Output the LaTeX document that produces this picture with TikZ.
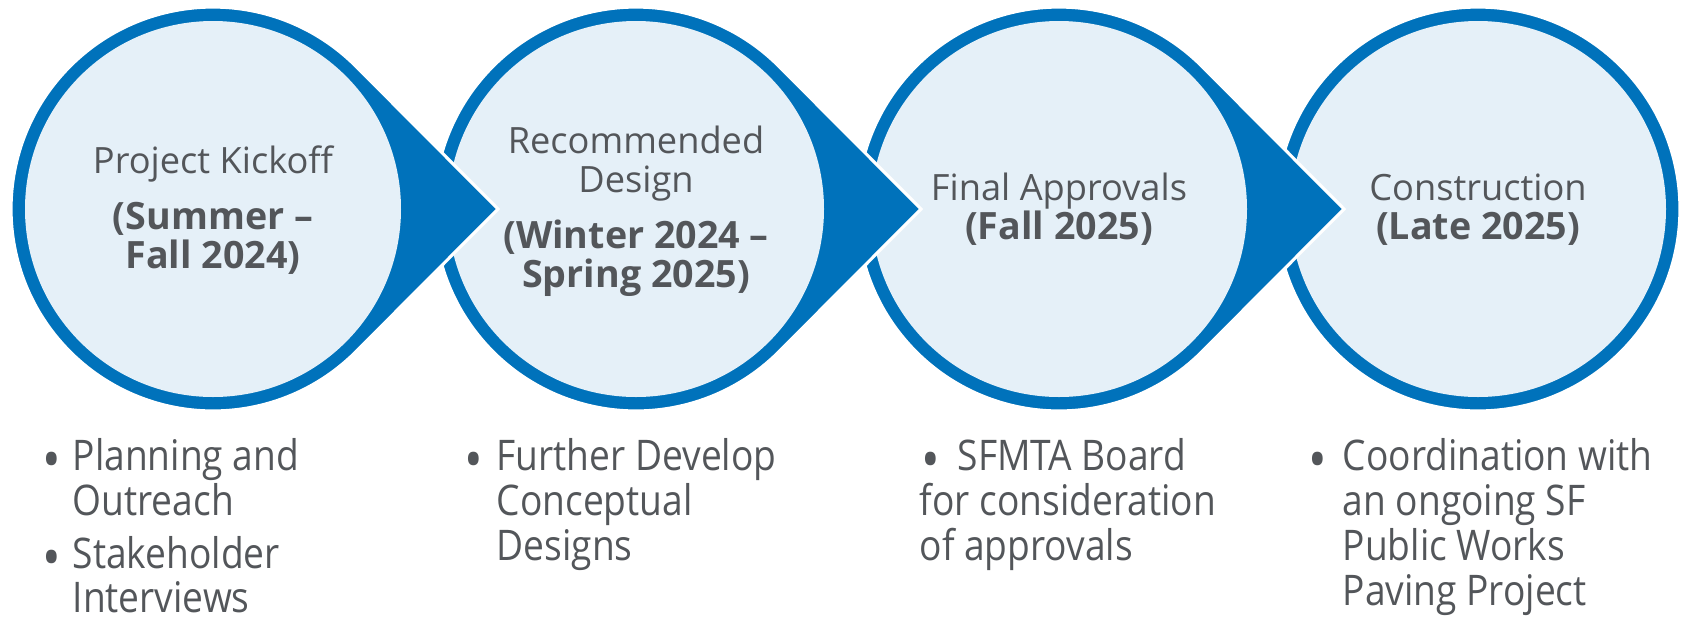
\documentclass[tikz,border=0pt]{standalone}
\usepackage{fontspec}
\setmainfont{Open Sans}
\newfontfamily\listfont[FakeStretch=0.88]{Open Sans}
\usetikzlibrary{calc}
\definecolor{sfblue}{RGB}{0,114,187}
\definecolor{sflight}{RGB}{229,240,248}
\definecolor{sfgray}{RGB}{83,86,90}
% bullet hanging left of a list line
\newcommand\bul[1]{\llap{\raisebox{-2.6pt}{\fontsize{16}{16}\selectfont •}\hspace{#1}}}
\tikzset{
  ring/.style={fill=sfblue, draw=white, line width=0.9pt},
  inner/.style={fill=sflight},
  head/.style={anchor=base, text=sfgray, inner sep=0pt, font=\fontsize{10.3}{12}\selectfont},
  date/.style={head, font=\fontsize{10.7}{12}\selectfont\bfseries},
  item/.style={anchor=base west, text=sfgray, inner sep=0pt, font=\listfont\fontsize{12}{14}\selectfont}
}

\begin{document}
\begin{tikzpicture}[x=0.01cm,y=0.01cm]
\useasboundingbox (0,0) rectangle (1690,617);
% stage centres
\coordinate (k1) at (213,408); \coordinate (k2) at (636,408);
\coordinate (k3) at (1059,408); \coordinate (k4) at (1478,408);
% circles, last one first so each pointer lies on top of the next circle
\filldraw [ring] (k4) circle (202); \fill [inner] (k4) circle (188);
\filldraw [ring] ($(k3)+(44.9:202)$) arc [start angle=44.9, end angle=315.1, radius=202] -- ($(k3)+(285,0)$) -- cycle;
\fill [inner] (k3) circle (188);
\filldraw [ring] ($(k2)+(44.9:202)$) arc [start angle=44.9, end angle=315.1, radius=202] -- ($(k2)+(285,0)$) -- cycle;
\fill [inner] (k2) circle (188);
\filldraw [ring] ($(k1)+(44.9:202)$) arc [start angle=44.9, end angle=315.1, radius=202] -- ($(k1)+(285,0)$) -- cycle;
\fill [inner] (k1) circle (188);
% circle texts
\node [head] (h1) at (213,444) {Project Kickoff};
\node [date] (d1) at (213,388) {(Summer –};
\node [date] (e1) at (213,349) {Fall 2024)};
\node [head] (h2) at (636,464) {Recommended};
\node [head] (g2) at (636,425) {Design};
\node [date] (d2) at (636,369) {(Winter 2024 –};
\node [date] (e2) at (636,330) {Spring 2025)};
\node [head] (h3) at (1059,417) {Final Approvals};
\node [date] (d3) at (1059,378) {(Fall 2025)};
\node [head] (h4) at (1478,417) {Construction};
\node [date] (d4) at (1478,378) {(Late 2025)};
% lists
\node [item] (l1a) at (72,147) {\bul{3.4pt}Planning and};
\node [item] (l1b) at (72,102) {Outreach};
\node [item] (l1c) at (72,49) {\bul{3.4pt}Stakeholder};
\node [item] (l1d) at (72,5) {Interviews};
\node [item] (l2a) at (496,147) {\bul{4pt}Further Develop};
\node [item] (l2b) at (496,102) {Conceptual};
\node [item] (l2c) at (496,57) {Designs};
\node [item] (l3a) at (957,147) {\bul{5pt}SFMTA Board};
\node [item] (l3b) at (919,102) {for consideration};
\node [item] (l3c) at (919,57) {of approvals};
\node [item] (l4a) at (1342,147) {\bul{4.5pt}Coordination with};
\node [item] (l4b) at (1342,102) {an ongoing SF};
\node [item] (l4c) at (1342,57) {Public Works};
\node [item] (l4d) at (1342,12) {Paving Project};
\end{tikzpicture}
\end{document}
